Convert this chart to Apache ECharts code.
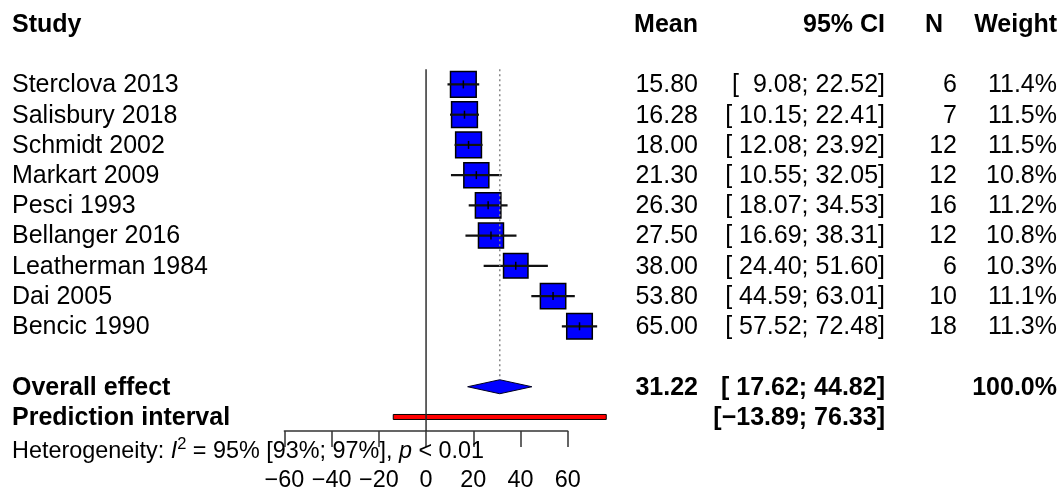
<!DOCTYPE html>
<html><head><meta charset="utf-8">
<script src="https://cdn.jsdelivr.net/npm/echarts@6/dist/echarts.min.js"></script>
<style>html,body{margin:0;padding:0;background:#fff}#c{width:1062px;height:493px}</style>
</head><body><div id="c"></div>
<script>
// ---- data ----
const studies = ['Sterclova 2013','Salisbury 2018','Schmidt 2002','Markart 2009','Pesci 1993','Bellanger 2016','Leatherman 1984','Dai 2005','Bencic 1990'];
const means   = [15.80, 16.28, 18.00, 21.30, 26.30, 27.50, 38.00, 53.80, 65.00];
const lowers  = [9.08, 10.15, 12.08, 10.55, 18.07, 16.69, 24.40, 44.59, 57.52];
const uppers  = [22.52, 22.41, 23.92, 32.05, 34.53, 38.31, 51.60, 63.01, 72.48];
const ns      = [6, 7, 12, 12, 16, 12, 6, 10, 18];
const weights = [11.4, 11.5, 11.5, 10.8, 11.2, 10.8, 10.3, 11.1, 11.3];
const overallEffect = [31.22, 17.62, 44.82];
const overallWeight = '100.0%';
const predictionInterval = [-13.89, 76.33];
const headers = ['Study', 'Mean', '95% CI', 'N', 'Weight'];
const heterogeneity = { i2: '95%', ci: '[93%; 97%]', p: '< 0.01' };
const xTicks = { min: -60, max: 60, step: 20 };

// ---- layout ----
const FONT = '"Liberation Sans", Arial, Helvetica, sans-serif';
const FS = 25;      // table text
const FS_SMALL = 23.4; // heterogeneity + axis labels
const ROW_HEADER = 0, ROW_FIRST = 2, ROW_OVERALL = 12, ROW_PRED = 13, ROW_HET = 14;
const COL = { study: 12, meanR: 698, ciR: 885, nR: 957, nHeadR: 943, wR: 1057 };
const DY = 1;

const fmtNum = v => (v < 0 ? '\u2212' : '') + Math.abs(v).toFixed(2);
const padCI = v => (Math.abs(v) < 10 && v >= 0 ? ' ' : '') + fmtNum(v);
const fmtCI = (lo, hi) => '[ ' + padCI(lo) + '; ' + padCI(hi) + ']';

function txt(x, y, s, align, bold) {
  return { type: 'text', style: { x: x, y: y + DY, text: s, fill: '#000',
    fontSize: FS, fontFamily: FONT, fontWeight: bold ? 'bold' : 'normal',
    align: align, verticalAlign: 'middle' } };
}

const chart = echarts.init(document.getElementById('c'), null, { renderer: 'canvas' });

const studyData = studies.map((s, i) => [means[i], lowers[i], uppers[i], weights[i], ROW_FIRST + i]);

chart.setOption({
  animation: false,
  backgroundColor: '#fff',
  grid: { left: 284.4, width: 283.3, top: 24, height: 412 },
  xAxis: {
    type: 'value', position: 'bottom', min: xTicks.min, max: xTicks.max, interval: xTicks.step,
    axisLine: { show: true, onZero: false, lineStyle: { color: '#333', width: 1.5 } },
    axisTick: { show: true, length: 16, lineStyle: { color: '#333', width: 1.5 } },
    axisLabel: { color: '#000', fontSize: FS_SMALL, fontFamily: FONT, margin: 38, lineHeight: 24,
      formatter: v => String(v).replace('-', '\u2212') },
    splitLine: { show: false }
  },
  yAxis: { type: 'value', min: 0, max: 13.464, inverse: true, show: false },
  series: [
    { // reference line at 0
      type: 'line', data: [[0, 1.5], [0, 13.464]], symbol: 'none', silent: true,
      lineStyle: { color: '#222', width: 1.4 }
    },
    { // dotted line at overall effect
      type: 'line', data: [[overallEffect[0], 1.5], [overallEffect[0], 11.75]], symbol: 'none', silent: true,
      lineStyle: { color: '#888', width: 1.5, type: [2, 3] }
    },
    { // study squares + CIs
      type: 'custom', clip: false, encode: { x: [0, 1, 2], y: 4 },
      data: studyData,
      renderItem: function (params, api) {
        const m = api.value(0), lo = api.value(1), hi = api.value(2), w = api.value(3), k = api.value(4);
        const pm = api.coord([m, k]), plo = api.coord([lo, k]), phi = api.coord([hi, k]);
        const side = 25.8 * Math.sqrt(w / 11.5);
        return { type: 'group', children: [
          { type: 'rect', shape: { x: pm[0] - side / 2, y: pm[1] - side / 2, width: side, height: side },
            style: { fill: '#0000FF', stroke: '#000', lineWidth: 1.5 } },
          { type: 'line', shape: { x1: plo[0], y1: pm[1], x2: phi[0], y2: pm[1] },
            style: { stroke: '#111', lineWidth: 2.2 } },
          { type: 'line', shape: { x1: pm[0], y1: pm[1] - 4, x2: pm[0], y2: pm[1] + 4 },
            style: { stroke: '#000', lineWidth: 1.5 } }
        ] };
      }
    },
    { // overall diamond
      type: 'custom', clip: false, encode: { x: [0, 1, 2], y: 3 },
      data: [[overallEffect[0], overallEffect[1], overallEffect[2], ROW_OVERALL]],
      renderItem: function (params, api) {
        const k = api.value(3);
        const pm = api.coord([api.value(0), k]), plo = api.coord([api.value(1), k]), phi = api.coord([api.value(2), k]);
        const h = 7;
        return { type: 'polygon', shape: { points: [[plo[0], pm[1]], [pm[0], pm[1] - h], [phi[0], pm[1]], [pm[0], pm[1] + h]] },
          style: { fill: '#0000FF', stroke: '#000022', lineWidth: 1 } };
      }
    },
    { // prediction interval bar
      type: 'custom', clip: false, encode: { x: [0, 1], y: 2 },
      data: [[predictionInterval[0], predictionInterval[1], ROW_PRED]],
      renderItem: function (params, api) {
        const k = api.value(2);
        const a = api.coord([api.value(0), k]), b = api.coord([api.value(1), k]);
        return { type: 'rect', shape: { x: a[0], y: a[1] - 2.5, width: b[0] - a[0], height: 5 },
          style: { fill: '#FF0000', stroke: '#000', lineWidth: 1 } };
      }
    },
    { // study text rows
      type: 'custom', clip: false, encode: { y: 0 }, silent: true,
      data: studies.map((s, i) => [ROW_FIRST + i]),
      renderItem: function (params, api) {
        const i = params.dataIndex;
        const y = api.coord([0, api.value(0)])[1];
        return { type: 'group', children: [
          txt(COL.study, y, studies[i], 'left', false),
          txt(COL.meanR, y, means[i].toFixed(2), 'right', false),
          txt(COL.ciR, y, fmtCI(lowers[i], uppers[i]), 'right', false),
          txt(COL.nR, y, String(ns[i]), 'right', false),
          txt(COL.wR, y, weights[i].toFixed(1) + '%', 'right', false)
        ] };
      }
    },
    { // header, overall, prediction, heterogeneity texts
      type: 'custom', clip: false, encode: { y: 0 }, silent: true,
      data: [[ROW_HEADER]],
      renderItem: function (params, api) {
        const yH = api.coord([0, ROW_HEADER])[1];
        const yO = api.coord([0, ROW_OVERALL])[1];
        const yP = api.coord([0, ROW_PRED])[1];
        const yX = api.coord([0, ROW_HET])[1] + 4;
        return { type: 'group', children: [
          txt(COL.study, yH, headers[0], 'left', true),
          txt(COL.meanR, yH, headers[1], 'right', true),
          txt(COL.ciR, yH, headers[2], 'right', true),
          txt(COL.nHeadR, yH, headers[3], 'right', true),
          txt(COL.wR, yH, headers[4], 'right', true),
          txt(COL.study, yO, 'Overall effect', 'left', true),
          txt(COL.meanR, yO, overallEffect[0].toFixed(2), 'right', true),
          txt(COL.ciR, yO, fmtCI(overallEffect[1], overallEffect[2]), 'right', true),
          txt(COL.wR, yO, overallWeight, 'right', true),
          txt(COL.study, yP, 'Prediction interval', 'left', true),
          txt(COL.ciR, yP, '[' + fmtNum(predictionInterval[0]) + '; ' + fmtNum(predictionInterval[1]) + ']', 'right', true),
          { type: 'text', style: {
              x: COL.study, y: yX, align: 'left', verticalAlign: 'middle', fill: '#000',
              text: '{n|Heterogeneity: }{i|I}{s|2}{n| = ' + heterogeneity.i2 + ' ' + heterogeneity.ci + ', }{i|p}{n| ' + heterogeneity.p + '}',
              rich: {
                n: { fontSize: FS_SMALL, fontFamily: FONT, lineHeight: 30, verticalAlign: 'middle', fill: '#000' },
                i: { fontSize: FS_SMALL, fontFamily: FONT, fontStyle: 'italic', lineHeight: 30, verticalAlign: 'middle', fill: '#000' },
                s: { fontSize: 16.5, fontFamily: FONT, lineHeight: 15, verticalAlign: 'top', fill: '#000' }
              } } }
        ] };
      }
    }
  ]
});
</script></body></html>
